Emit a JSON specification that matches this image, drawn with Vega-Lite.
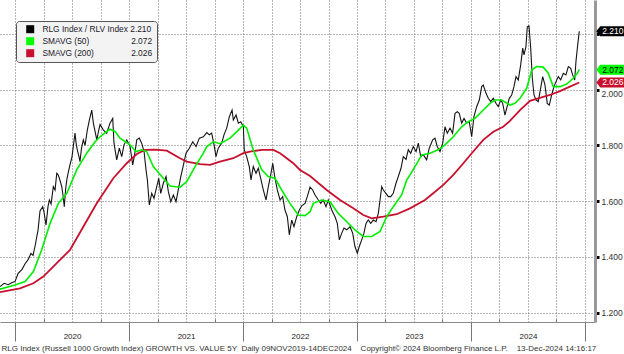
{
  "$schema": "https://vega.github.io/schema/vega-lite/v6.json",
  "width": 595,
  "height": 322,
  "autosize": "none",
  "padding": {"left": 0, "top": 0, "right": 29, "bottom": 32},
  "background": "white",
  "config": {"view": {"stroke": null}, "font": "Liberation Sans", "axis": {"labelFont": "Liberation Sans"}},
  "datasets": {
    "ratio": [
      {"t":2019.868,"v":1.293},{"t":2019.904,"v":1.305},{"t":2019.939,"v":1.300},{"t":2019.974,"v":1.308},{"t":2020.000,"v":1.311},{"t":2020.026,"v":1.340},{"t":2020.061,"v":1.355},{"t":2020.088,"v":1.375},{"t":2020.114,"v":1.390},{"t":2020.140,"v":1.412},{"t":2020.158,"v":1.405},{"t":2020.175,"v":1.437},{"t":2020.202,"v":1.497},{"t":2020.219,"v":1.565},{"t":2020.243,"v":1.580},{"t":2020.254,"v":1.560},{"t":2020.272,"v":1.514},{"t":2020.289,"v":1.580},{"t":2020.301,"v":1.604},{"t":2020.316,"v":1.590},{"t":2020.336,"v":1.652},{"t":2020.351,"v":1.640},{"t":2020.366,"v":1.700},{"t":2020.377,"v":1.695},{"t":2020.389,"v":1.682},{"t":2020.410,"v":1.652},{"t":2020.421,"v":1.620},{"t":2020.432,"v":1.580},{"t":2020.443,"v":1.640},{"t":2020.454,"v":1.676},{"t":2020.465,"v":1.700},{"t":2020.482,"v":1.730},{"t":2020.500,"v":1.760},{"t":2020.511,"v":1.795},{"t":2020.526,"v":1.844},{"t":2020.535,"v":1.810},{"t":2020.546,"v":1.784},{"t":2020.561,"v":1.760},{"t":2020.570,"v":1.742},{"t":2020.583,"v":1.790},{"t":2020.599,"v":1.820},{"t":2020.614,"v":1.800},{"t":2020.634,"v":1.855},{"t":2020.652,"v":1.891},{"t":2020.673,"v":1.927},{"t":2020.687,"v":1.880},{"t":2020.702,"v":1.850},{"t":2020.717,"v":1.820},{"t":2020.732,"v":1.850},{"t":2020.746,"v":1.875},{"t":2020.775,"v":1.855},{"t":2020.804,"v":1.844},{"t":2020.833,"v":1.880},{"t":2020.857,"v":1.897},{"t":2020.868,"v":1.808},{"t":2020.892,"v":1.748},{"t":2020.915,"v":1.790},{"t":2020.936,"v":1.760},{"t":2020.956,"v":1.802},{"t":2020.980,"v":1.820},
      {"t":2021.009,"v":1.796},{"t":2021.032,"v":1.730},{"t":2021.046,"v":1.760},{"t":2021.068,"v":1.820},{"t":2021.090,"v":1.826},{"t":2021.111,"v":1.808},{"t":2021.132,"v":1.778},{"t":2021.149,"v":1.712},{"t":2021.161,"v":1.676},{"t":2021.178,"v":1.586},{"t":2021.199,"v":1.628},{"t":2021.219,"v":1.610},{"t":2021.243,"v":1.652},{"t":2021.261,"v":1.682},{"t":2021.278,"v":1.628},{"t":2021.301,"v":1.664},{"t":2021.325,"v":1.688},{"t":2021.345,"v":1.634},{"t":2021.366,"v":1.598},{"t":2021.389,"v":1.622},{"t":2021.412,"v":1.598},{"t":2021.432,"v":1.640},{"t":2021.454,"v":1.688},{"t":2021.471,"v":1.718},{"t":2021.500,"v":1.772},{"t":2021.529,"v":1.790},{"t":2021.559,"v":1.813},{"t":2021.588,"v":1.796},{"t":2021.617,"v":1.826},{"t":2021.652,"v":1.831},{"t":2021.682,"v":1.846},{"t":2021.704,"v":1.838},{"t":2021.725,"v":1.844},{"t":2021.746,"v":1.802},{"t":2021.763,"v":1.760},{"t":2021.783,"v":1.790},{"t":2021.813,"v":1.808},{"t":2021.833,"v":1.838},{"t":2021.857,"v":1.862},{"t":2021.880,"v":1.903},{"t":2021.904,"v":1.927},{"t":2021.915,"v":1.891},{"t":2021.939,"v":1.909},{"t":2021.959,"v":1.880},{"t":2021.980,"v":1.885},
      {"t":2022.003,"v":1.867},{"t":2022.011,"v":1.784},{"t":2022.032,"v":1.760},{"t":2022.055,"v":1.724},{"t":2022.070,"v":1.676},{"t":2022.090,"v":1.724},{"t":2022.114,"v":1.700},{"t":2022.134,"v":1.718},{"t":2022.155,"v":1.682},{"t":2022.178,"v":1.640},{"t":2022.202,"v":1.604},{"t":2022.222,"v":1.652},{"t":2022.243,"v":1.694},{"t":2022.261,"v":1.736},{"t":2022.278,"v":1.688},{"t":2022.301,"v":1.640},{"t":2022.325,"v":1.604},{"t":2022.348,"v":1.616},{"t":2022.368,"v":1.568},{"t":2022.389,"v":1.544},{"t":2022.406,"v":1.479},{"t":2022.427,"v":1.532},{"t":2022.447,"v":1.508},{"t":2022.471,"v":1.544},{"t":2022.494,"v":1.568},{"t":2022.515,"v":1.583},{"t":2022.544,"v":1.592},{"t":2022.564,"v":1.616},{"t":2022.588,"v":1.650},{"t":2022.611,"v":1.640},{"t":2022.632,"v":1.622},{"t":2022.661,"v":1.604},{"t":2022.682,"v":1.592},{"t":2022.704,"v":1.604},{"t":2022.728,"v":1.580},{"t":2022.748,"v":1.604},{"t":2022.778,"v":1.568},{"t":2022.807,"v":1.544},{"t":2022.827,"v":1.520},{"t":2022.845,"v":1.461},{"t":2022.866,"v":1.485},{"t":2022.886,"v":1.503},{"t":2022.910,"v":1.497},{"t":2022.939,"v":1.508},{"t":2022.962,"v":1.485},{"t":2022.982,"v":1.437},
      {"t":2023.003,"v":1.413},{"t":2023.020,"v":1.437},{"t":2023.041,"v":1.461},{"t":2023.061,"v":1.485},{"t":2023.079,"v":1.520},{"t":2023.099,"v":1.532},{"t":2023.120,"v":1.520},{"t":2023.143,"v":1.532},{"t":2023.167,"v":1.526},{"t":2023.187,"v":1.556},{"t":2023.202,"v":1.604},{"t":2023.217,"v":1.652},{"t":2023.231,"v":1.640},{"t":2023.254,"v":1.628},{"t":2023.275,"v":1.616},{"t":2023.296,"v":1.616},{"t":2023.318,"v":1.628},{"t":2023.342,"v":1.664},{"t":2023.362,"v":1.688},{"t":2023.386,"v":1.718},{"t":2023.406,"v":1.760},{"t":2023.430,"v":1.750},{"t":2023.450,"v":1.785},{"t":2023.471,"v":1.772},{"t":2023.494,"v":1.796},{"t":2023.518,"v":1.778},{"t":2023.538,"v":1.808},{"t":2023.559,"v":1.760},{"t":2023.582,"v":1.766},{"t":2023.611,"v":1.748},{"t":2023.634,"v":1.790},{"t":2023.664,"v":1.820},{"t":2023.684,"v":1.826},{"t":2023.704,"v":1.796},{"t":2023.728,"v":1.778},{"t":2023.752,"v":1.808},{"t":2023.772,"v":1.867},{"t":2023.792,"v":1.844},{"t":2023.816,"v":1.862},{"t":2023.839,"v":1.844},{"t":2023.860,"v":1.915},{"t":2023.880,"v":1.921},{"t":2023.897,"v":1.915},{"t":2023.918,"v":1.880},{"t":2023.939,"v":1.897},{"t":2023.962,"v":1.880},{"t":2023.985,"v":1.885},
      {"t":2024.006,"v":1.831},{"t":2024.026,"v":1.903},{"t":2024.050,"v":1.939},{"t":2024.073,"v":1.963},{"t":2024.094,"v":2.011},{"t":2024.108,"v":2.017},{"t":2024.132,"v":1.987},{"t":2024.152,"v":1.969},{"t":2024.173,"v":1.957},{"t":2024.196,"v":1.969},{"t":2024.219,"v":1.951},{"t":2024.239,"v":1.939},{"t":2024.261,"v":1.963},{"t":2024.278,"v":1.951},{"t":2024.298,"v":1.909},{"t":2024.313,"v":1.933},{"t":2024.336,"v":1.969},{"t":2024.357,"v":1.981},{"t":2024.377,"v":2.011},{"t":2024.395,"v":2.047},{"t":2024.415,"v":2.035},{"t":2024.436,"v":2.089},{"t":2024.454,"v":2.149},{"t":2024.465,"v":2.125},{"t":2024.482,"v":2.154},{"t":2024.494,"v":2.226},{"t":2024.509,"v":2.229},{"t":2024.524,"v":2.149},{"t":2024.538,"v":2.041},{"t":2024.553,"v":1.981},{"t":2024.570,"v":1.963},{"t":2024.590,"v":1.957},{"t":2024.611,"v":2.005},{"t":2024.629,"v":2.047},{"t":2024.649,"v":2.017},{"t":2024.669,"v":1.951},{"t":2024.687,"v":1.945},{"t":2024.708,"v":1.981},{"t":2024.728,"v":2.011},{"t":2024.746,"v":2.029},{"t":2024.766,"v":2.047},{"t":2024.787,"v":2.035},{"t":2024.810,"v":2.059},{"t":2024.833,"v":2.053},{"t":2024.854,"v":2.083},{"t":2024.875,"v":2.077},{"t":2024.892,"v":2.053},{"t":2024.910,"v":2.035},{"t":2024.921,"v":2.101},{"t":2024.933,"v":2.149},{"t":2024.950,"v":2.210}
    ],
    "sma50": [
      {"t":2019.868,"v":1.284},{"t":2020.000,"v":1.299},{"t":2020.088,"v":1.311},{"t":2020.161,"v":1.347},{"t":2020.234,"v":1.425},{"t":2020.307,"v":1.520},{"t":2020.380,"v":1.592},{"t":2020.454,"v":1.628},{"t":2020.541,"v":1.712},{"t":2020.629,"v":1.772},{"t":2020.702,"v":1.813},{"t":2020.746,"v":1.831},{"t":2020.789,"v":1.845},{"t":2020.833,"v":1.858},{"t":2020.877,"v":1.850},{"t":2020.921,"v":1.826},{"t":2021.009,"v":1.802},{"t":2021.061,"v":1.778},{"t":2021.111,"v":1.784},{"t":2021.155,"v":1.778},{"t":2021.213,"v":1.724},{"t":2021.287,"v":1.688},{"t":2021.360,"v":1.654},{"t":2021.447,"v":1.650},{"t":2021.506,"v":1.670},{"t":2021.579,"v":1.724},{"t":2021.652,"v":1.772},{"t":2021.682,"v":1.796},{"t":2021.739,"v":1.813},{"t":2021.798,"v":1.806},{"t":2021.886,"v":1.826},{"t":2021.959,"v":1.855},{"t":2022.003,"v":1.873},{"t":2022.032,"v":1.862},{"t":2022.090,"v":1.784},{"t":2022.164,"v":1.712},{"t":2022.222,"v":1.688},{"t":2022.281,"v":1.682},{"t":2022.339,"v":1.640},{"t":2022.412,"v":1.592},{"t":2022.485,"v":1.550},{"t":2022.544,"v":1.548},{"t":2022.588,"v":1.562},{"t":2022.617,"v":1.592},{"t":2022.690,"v":1.604},{"t":2022.763,"v":1.598},{"t":2022.836,"v":1.556},{"t":2022.910,"v":1.526},{"t":2022.982,"v":1.497},{"t":2023.055,"v":1.473},{"t":2023.129,"v":1.473},{"t":2023.202,"v":1.491},{"t":2023.261,"v":1.544},{"t":2023.318,"v":1.580},{"t":2023.392,"v":1.622},{"t":2023.436,"v":1.676},{"t":2023.465,"v":1.694},{"t":2023.509,"v":1.724},{"t":2023.568,"v":1.766},{"t":2023.640,"v":1.772},{"t":2023.713,"v":1.784},{"t":2023.772,"v":1.802},{"t":2023.845,"v":1.831},{"t":2023.918,"v":1.867},{"t":2023.976,"v":1.885},{"t":2024.035,"v":1.897},{"t":2024.108,"v":1.927},{"t":2024.167,"v":1.951},{"t":2024.211,"v":1.963},{"t":2024.269,"v":1.963},{"t":2024.342,"v":1.945},{"t":2024.386,"v":1.951},{"t":2024.430,"v":1.969},{"t":2024.489,"v":2.005},{"t":2024.533,"v":2.071},{"t":2024.576,"v":2.083},{"t":2024.634,"v":2.081},{"t":2024.678,"v":2.059},{"t":2024.722,"v":2.011},{"t":2024.781,"v":2.011},{"t":2024.840,"v":2.020},{"t":2024.897,"v":2.041},{"t":2024.933,"v":2.059},{"t":2024.950,"v":2.072}
    ],
    "sma200": [
      {"t":2019.868,"v":1.273},{"t":2020.044,"v":1.287},{"t":2020.161,"v":1.305},{"t":2020.248,"v":1.329},{"t":2020.366,"v":1.377},{"t":2020.482,"v":1.425},{"t":2020.599,"v":1.508},{"t":2020.717,"v":1.592},{"t":2020.746,"v":1.610},{"t":2020.862,"v":1.682},{"t":2020.980,"v":1.736},{"t":2021.068,"v":1.769},{"t":2021.140,"v":1.784},{"t":2021.228,"v":1.785},{"t":2021.331,"v":1.781},{"t":2021.447,"v":1.754},{"t":2021.506,"v":1.742},{"t":2021.623,"v":1.733},{"t":2021.711,"v":1.730},{"t":2021.798,"v":1.742},{"t":2021.915,"v":1.754},{"t":2022.003,"v":1.772},{"t":2022.061,"v":1.778},{"t":2022.167,"v":1.784},{"t":2022.266,"v":1.784},{"t":2022.325,"v":1.772},{"t":2022.441,"v":1.736},{"t":2022.500,"v":1.712},{"t":2022.588,"v":1.690},{"t":2022.734,"v":1.640},{"t":2022.851,"v":1.604},{"t":2022.968,"v":1.574},{"t":2023.055,"v":1.550},{"t":2023.129,"v":1.538},{"t":2023.231,"v":1.544},{"t":2023.348,"v":1.553},{"t":2023.465,"v":1.574},{"t":2023.596,"v":1.604},{"t":2023.669,"v":1.628},{"t":2023.757,"v":1.658},{"t":2023.845,"v":1.694},{"t":2023.933,"v":1.736},{"t":2024.020,"v":1.778},{"t":2024.108,"v":1.820},{"t":2024.196,"v":1.849},{"t":2024.283,"v":1.867},{"t":2024.342,"v":1.888},{"t":2024.430,"v":1.927},{"t":2024.518,"v":1.960},{"t":2024.605,"v":1.971},{"t":2024.693,"v":1.981},{"t":2024.781,"v":1.995},{"t":2024.868,"v":2.011},{"t":2024.950,"v":2.026}
    ],
    "last": [
      {"series":"RLG Index / RLV Index","t":2024.950,"v":2.210},
      {"series":"SMAVG (50)","t":2024.950,"v":2.072},
      {"series":"SMAVG (200)","t":2024.950,"v":2.026}
    ]
  },
  "encoding": {
    "x": {"field": "t", "type": "quantitative", "scale": {"domain": [2019.868, 2025.088], "zero": false, "nice": false},
      "axis": {"orient": "bottom",
        "values": [2020,2020.25,2020.5,2020.75,2021,2021.25,2021.5,2021.75,2022,2022.25,2022.5,2022.75,2023,2023.25,2023.5,2023.75,2024,2024.25,2024.5,2024.75,2025],
        "grid": true, "gridDash": [1,2], "gridColor": "#6e6e6e", "gridWidth": 1, "gridOpacity": 1,
        "ticks": true,
        "tickSize": {"condition": [{"test": "abs(datum.value - round(datum.value)) < 0.01", "value": 19}, {"test": "abs(datum.value - floor(datum.value) - 0.5) < 0.01", "value": 0}], "value": -3},
        "tickColor": "#777777", "tickWidth": 1,
        "labelExpr": "abs(datum.value - floor(datum.value) - 0.5) < 0.01 ? format(floor(datum.value), 'd') : ''",
        "labelPadding": 10, "labelFontSize": 8, "labelColor": "#222222", "labelFlush": false, "labelOverlap": false,
        "domain": true, "domainColor": "#8a8a8a", "domainWidth": 1,
        "title": "RLG Index (Russell 1000 Growth Index) GROWTH VS. VALUE 5Y\u00a0\u00a0Daily 09NOV2019-14DEC2024\u00a0\u00a0\u00a0\u00a0Copyright\u00a9 2024 Bloomberg Finance L.P.\u00a0\u00a0\u00a0\u00a013-Dec-2024 14:16:17",
        "titleX": 1, "titleY": 22, "titleAlign": "left", "titleAnchor": "start", "titleBaseline": "top", "titleAngle": 0,
        "titleFont": "Liberation Sans", "titleFontSize": 8, "titleFontWeight": "normal", "titleColor": "#333333", "titleLimit": 700}},
    "y": {"field": "v", "type": "quantitative", "scale": {"domain": [1.166, 2.322], "zero": false, "nice": false},
      "axis": {"orient": "right", "values": [1.2,1.4,1.6,1.8,2.0,2.2],
        "grid": true, "gridDash": [1,2], "gridColor": "#6e6e6e", "gridWidth": 1, "gridOpacity": 1,
        "tickSize": 4, "tickWidth": 3, "tickColor": "#000000",
        "labelPadding": 2, "labelFontSize": 8.5, "labelColor": "#333333",
        "labelOffset": {"condition": {"test": "datum.value > 1.99 && datum.value < 2.01", "value": 3.5}, "value": 0},
        "labelExpr": "datum.value > 2.1 ? '' : format(datum.value, '.3f')",
        "domainColor": "#999999", "domainWidth": 3, "title": null, "labelOverlap": false}}
  },
  "layer": [
    {
      "data": {"name": "ratio"},
      "mark": {"type": "line", "color": "#141414", "strokeWidth": 1.1}
    },
    {
      "data": {"name": "sma200"},
      "mark": {"type": "line", "color": "#c8102e", "strokeWidth": 1.8}
    },
    {
      "data": {"name": "sma50"},
      "mark": {"type": "line", "color": "#00ee00", "strokeWidth": 1.6}
    },
    {
      "data": {"name": "last"},
      "mark": {"type": "point", "shape": "M-3,0L1,-5H26V5H1Z", "size": 4, "filled": true, "opacity": 1, "xOffset": 20, "strokeWidth": 0},
      "encoding": {
        "color": {"field": "series", "type": "nominal",
          "scale": {"domain": ["RLG Index / RLV Index", "SMAVG (50)", "SMAVG (200)"], "range": ["#000000", "#00ff00", "#c8102e"]},
          "legend": {"orient": "none", "legendX": 16, "legendY": 21, "title": null, "symbolType": "square", "symbolSize": 64, "symbolStrokeWidth": 0,
            "symbolOpacity": 1, "symbolOffset": 6, "labelOffset": 8, "labelFont": "Liberation Sans", "labelFontSize": 8.4, "labelColor": "#1a1a2a",
            "padding": 4, "rowPadding": 3, "fillColor": "#f3f3f3", "strokeColor": "#555555", "cornerRadius": 3, "labelLimit": 300,
            "labelExpr": "datum.label == 'RLG Index / RLV Index' ? datum.label + '\u00a02.210' : (datum.label == 'SMAVG (50)' ? datum.label + '\u00a0\u00a0\u00a0\u00a0\u00a0\u00a0\u00a0\u00a0\u00a0\u00a0\u00a0\u00a0\u00a0\u00a0\u00a0\u00a0\u00a0\u00a02.072' : datum.label + '\u00a0\u00a0\u00a0\u00a0\u00a0\u00a0\u00a0\u00a0\u00a0\u00a0\u00a0\u00a0\u00a0\u00a0\u00a0\u00a02.026')"}}
      }
    },
    {
      "data": {"name": "last"},
      "mark": {"type": "text", "xOffset": 33.5, "fontSize": 8.5, "font": "Liberation Sans", "baseline": "middle", "align": "center"},
      "encoding": {
        "text": {"field": "v", "type": "quantitative", "format": ".3f"},
        "color": {"condition": {"test": "datum.series === 'SMAVG (50)'", "value": "#000000"}, "value": "#ffffff"}
      }
    }
  ]
}
